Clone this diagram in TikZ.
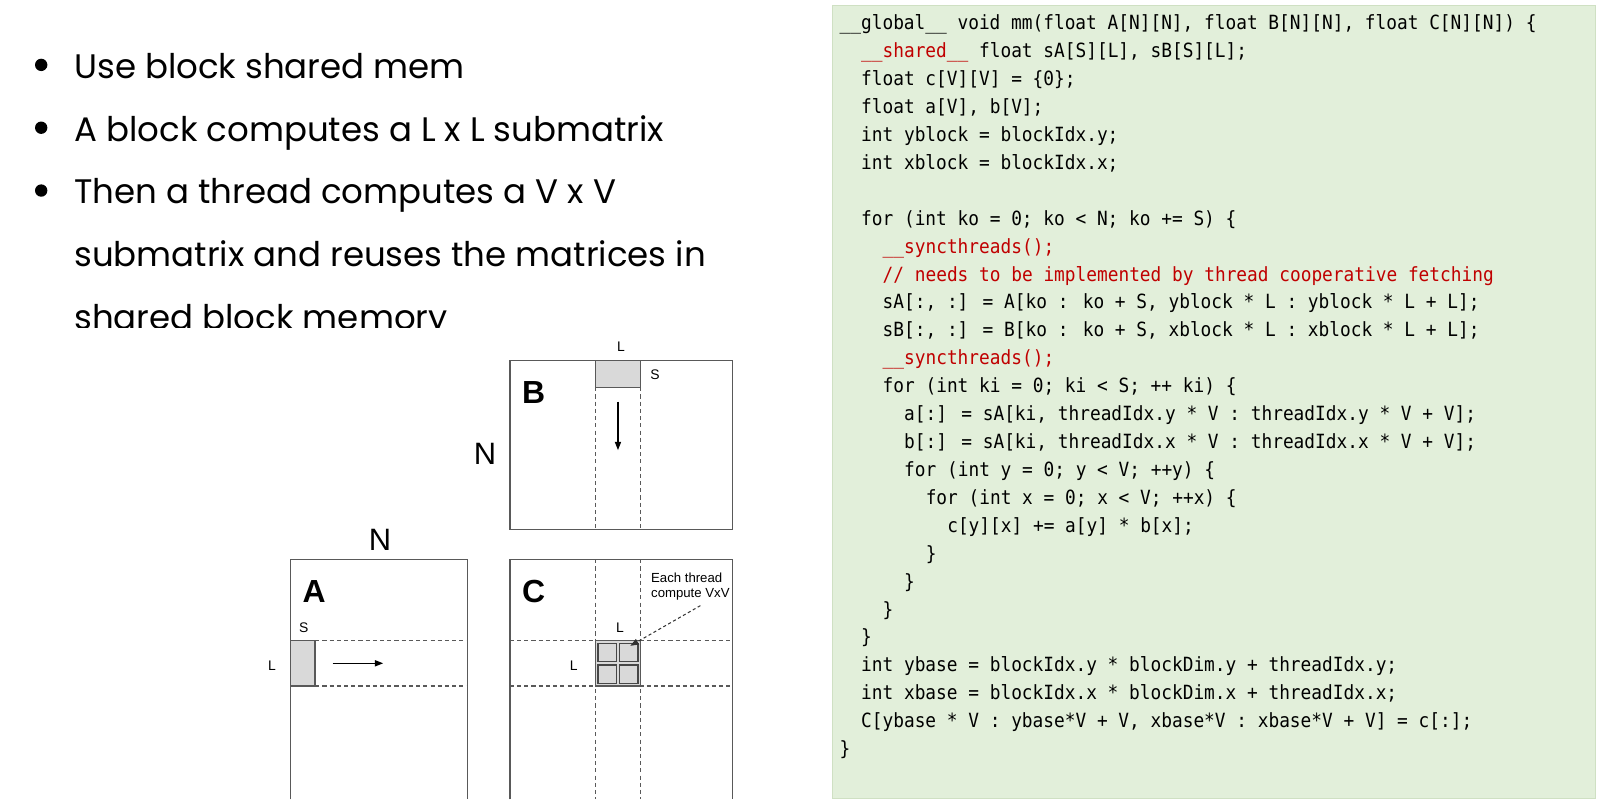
\documentclass[tikz,border=0pt]{standalone}
\usepackage{fontspec}
\setmainfont{Liberation Sans}
\newfontfamily\bulletfont{Poppins}
\newfontfamily\codefont[FakeStretch=0.91]{DejaVu Sans Mono}
\usetikzlibrary{arrows.meta}
\definecolor{codebg}{HTML}{E2EFDA}
\definecolor{codeedge}{HTML}{CFE0C3}
\definecolor{codered}{HTML}{C00000}
\definecolor{linegray}{HTML}{595959}
\definecolor{fillgray}{HTML}{D9D9D9}
\newcommand{\codeln}[3]{\node[code] (l#1) at ({815+10.45*#2},{29+27.1*#1}) {#3};}
\newcommand{\rd}[1]{\textcolor{codered}{#1}}
\tikzset{
  code/.style={anchor=base west, inner sep=0pt, font=\codefont\fontsize{19}{27}\selectfont, text=black},
  bullettext/.style={anchor=base west, inner sep=0pt, font=\bulletfont\fontsize{33}{40}\selectfont},
  bulletdot/.style={fill=black, draw=none},
  mat/.style={draw=linegray, line width=1.4pt},
  guide/.style={draw=linegray, line width=1.2pt, dash pattern=on 4pt off 3pt},
  blockfill/.style={fill=fillgray, draw=linegray, line width=1.4pt},
  subsq/.style={fill=fillgray, draw=linegray!80!black, line width=1.3pt},
  small/.style={inner sep=0pt, font=\fontsize{13.5}{15}\selectfont},
  note/.style={inner sep=0pt, font=\fontsize{12.8}{15}\selectfont},
  dimlab/.style={inner sep=0pt, font=\fontsize{30}{32}\selectfont},
  matlab/.style={inner sep=0pt, font=\bfseries\fontsize{31}{32}\selectfont},
  solidarrow/.style={draw=black, line width=1.1pt, -{Triangle[length=8pt,width=6pt]}},
  leader/.style={draw=black!80, line width=1pt, dash pattern=on 3pt off 2.5pt, -{Triangle[length=8pt,width=6pt]}},
}
\begin{document}
\begin{tikzpicture}[x=1pt,y=-1pt]
\useasboundingbox (0,0) rectangle (1568,786.4);
\fill[white] (0,0) rectangle (1568,786.4);

% ---------- bullets ----------
\foreach \yy/\nm in {63/b1,124/b2,185/b3} \fill[bulletdot] (40,\yy) circle (6);
\node[bullettext] (t1) at (72,76) {Use block shared mem};
\node[bullettext] (t2) at (72,137) {A block computes a L x L submatrix};
\node[bullettext] (t3) at (72,198) {Then a thread computes a V x V};
\node[bullettext] (t4) at (72,259) {submatrix and reuses the matrices in};
\begin{scope}
\clip (0,0) rectangle (800,318);
\node[bullettext] (t5) at (72,320) {shared block memory};
\end{scope}

% ---------- matrix B ----------
\draw[mat] (495,350) rectangle (711,514);
\draw[guide] (578,376) -- (578,514);
\draw[guide] (622,376) -- (622,514);
\draw[blockfill] (578,350) rectangle (622,376);
\coordinate (barS) at (600,390);
\coordinate (barE) at (600,437);
\draw[solidarrow] (barS) -- (barE);
\node[small] (bL) at (603,337) {L};
\node[small] (bS) at (636,364) {S};
\node[matlab] (bB) at (518,381) {B};
\node[dimlab] (bN) at (471,441) {N};

% ---------- matrix A ----------
\draw[mat] (282,776) -- (282,543) -- (454,543) -- (454,776);
\draw[guide] (306,622) -- (454,622);
\draw[guide] (306,666) -- (454,666);
\draw[blockfill] (282,622) rectangle (306,666);
\coordinate (aarS) at (323,644);
\coordinate (aarE) at (372,644);
\draw[solidarrow] (aarS) -- (aarE);
\node[dimlab] (aN) at (369,524) {N};
\node[matlab] (aA) at (305,574) {A};
\node[small] (aS) at (295,609) {S};
\node[small] (aL) at (264,646) {L};

% ---------- matrix C ----------
\draw[mat] (495,776) -- (495,543) -- (711,543) -- (711,776);
\draw[guide] (578,543) -- (578,776);
\draw[guide] (622,543) -- (622,776);
\draw[guide] (495,622) -- (711,622);
\draw[guide] (495,666) -- (711,666);
\draw[blockfill] (578,622) rectangle (622,666);
\draw[subsq] (580.5,624.5) rectangle (598.5,642.5);
\draw[subsq] (601.5,624.5) rectangle (619.5,642.5);
\draw[subsq] (580.5,645.5) rectangle (598.5,663.5);
\draw[subsq] (601.5,645.5) rectangle (619.5,663.5);
\node[matlab] (cC) at (518,574) {C};
\node[small] (cL1) at (602,609) {L};
\node[small] (cL2) at (557,646) {L};
\node[note, anchor=west] (each) at (632,561) {Each thread};
\node[note, anchor=west] (comp) at (632,577) {compute VxV};
\coordinate (ldS) at (680,588);
\coordinate (ldE) at (612,627);
\draw[leader] (ldS) -- (ldE);

% ---------- code box ----------
\fill[codebg] (808,5) rectangle (1549,775);
\draw[codeedge, line width=1pt] (808,5) rectangle (1549,775);
\codeln{0}{0}{\_\_global\_\_ void mm(float A[N][N], float B[N][N], float C[N][N]) \{}
\codeln{1}{2}{\rd{\_\_shared\_\_} float sA[S][L], sB[S][L];}
\codeln{2}{2}{float c[V][V] = \{0\};}
\codeln{3}{2}{float a[V], b[V];}
\codeln{4}{2}{int yblock = blockIdx.y;}
\codeln{5}{2}{int xblock = blockIdx.x;}
\codeln{7}{2}{for (int ko = 0; ko < N; ko += S) \{}
\codeln{8}{4}{\rd{\_\_syncthreads();}}
\codeln{9}{4}{\rd{// needs to be implemented by thread cooperative fetching}}
\codeln{10}{4}{sA[:, :] = A[ko : ko + S, yblock * L : yblock * L + L];}
\codeln{11}{4}{sB[:, :] = B[ko : ko + S, xblock * L : xblock * L + L];}
\codeln{12}{4}{\rd{\_\_syncthreads();}}
\codeln{13}{4}{for (int ki = 0; ki < S; ++ ki) \{}
\codeln{14}{6}{a[:] = sA[ki, threadIdx.y * V : threadIdx.y * V + V];}
\codeln{15}{6}{b[:] = sA[ki, threadIdx.x * V : threadIdx.x * V + V];}
\codeln{16}{6}{for (int y = 0; y < V; ++y) \{}
\codeln{17}{8}{for (int x = 0; x < V; ++x) \{}
\codeln{18}{10}{c[y][x] += a[y] * b[x];}
\codeln{19}{8}{\}}
\codeln{20}{6}{\}}
\codeln{21}{4}{\}}
\codeln{22}{2}{\}}
\codeln{23}{2}{int ybase = blockIdx.y * blockDim.y + threadIdx.y;}
\codeln{24}{2}{int xbase = blockIdx.x * blockDim.x + threadIdx.x;}
\codeln{25}{2}{C[ybase * V : ybase*V + V, xbase*V : xbase*V + V] = c[:];}
\codeln{26}{0}{\}}
\end{tikzpicture}
\end{document}
